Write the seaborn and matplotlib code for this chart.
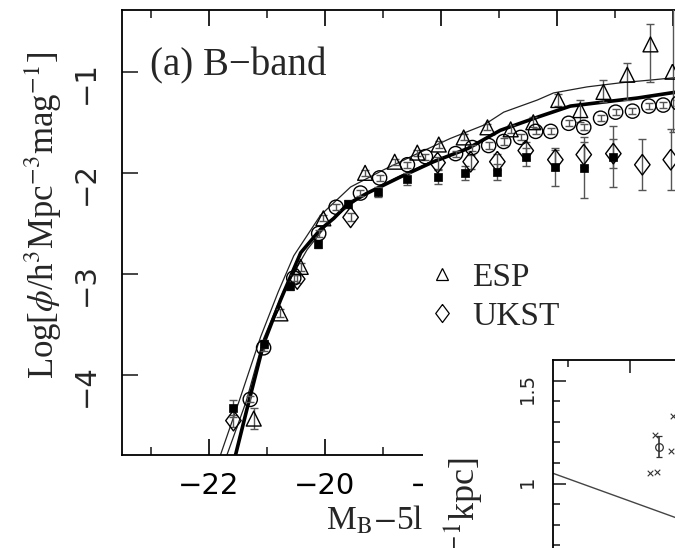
import matplotlib
matplotlib.use("Agg")
import matplotlib.pyplot as plt
import pandas as pd
import seaborn as sns
from matplotlib.lines import Line2D
from matplotlib.patches import Rectangle
from matplotlib.transforms import Bbox

# ---------------- B-band luminosity function: model curves ----------------
fit_thin_mag = [-21.90, -21.80, -21.45, -21.10, -20.80, -20.53, -20.07, -19.55, -18.98,
                -18.40, -17.83, -17.26, -16.91, -16.33, -16.05, -15.47, -14.90, -14.33,
                -13.98, -13.50, -12.50]
fit_thin_phi = [-4.97, -4.80, -4.22, -3.62, -3.18, -2.82, -2.42, -2.14, -1.97,
                -1.81, -1.66, -1.53, -1.40, -1.28, -1.21, -1.15, -1.11, -1.08,
                -1.06, -1.04, -1.00]

fit_mid_mag = [-21.75, -21.72, -21.35, -21.05, -20.70, -20.30, -19.90, -19.40, -18.80,
               -18.20, -17.50, -16.97, -16.33, -15.76, -15.19, -14.60, -14.03, -13.50, -12.50]
fit_mid_phi = [-4.90, -4.85, -4.26, -3.64, -3.16, -2.76, -2.47, -2.25, -2.06,
               -1.90, -1.75, -1.58, -1.45, -1.34, -1.30, -1.26, -1.21, -1.17, -1.10]

fit_thick_mag = [-21.58, -21.56, -21.33, -21.05, -20.76, -20.41, -20.07, -19.84, -19.60,
                 -19.26, -18.69, -18.12, -17.53, -16.97, -16.33, -15.76, -15.19, -14.60,
                 -14.03, -13.50, -12.50]
fit_thick_phi = [-4.90, -4.85, -4.32, -3.69, -3.26, -2.79, -2.56, -2.45, -2.31,
                 -2.20, -2.04, -1.89, -1.76, -1.58, -1.45, -1.34, -1.30, -1.26,
                 -1.21, -1.17, -1.10]

# ---------------- survey measurements ----------------
esp_mag = [-21.22, -20.76, -20.41, -20.02, -19.30, -18.79, -18.40, -18.03, -17.60,
           -17.19, -16.79, -16.40, -15.97, -15.59, -15.19, -14.78, -14.38, -14.00]
esp_phi = [-4.43, -3.39, -2.93, -2.45, -2.00, -1.89, -1.80, -1.72, -1.65,
           -1.55, -1.57, -1.50, -1.28, -1.38, -1.20, -1.03, -0.73, -1.00]
esp_err_lo = [0.10, 0.04, 0.04, 0.03, 0.03, 0.03, 0.03, 0.03, 0.03,
              0.03, 0.04, 0.05, 0.06, 0.12, 0.10, 0.25, 0.37, 0.60]
esp_err_hi = [0.10, 0.04, 0.04, 0.03, 0.03, 0.03, 0.03, 0.03, 0.03,
              0.03, 0.04, 0.05, 0.06, 0.10, 0.12, 0.12, 0.20, 0.65]

ukst_mag = [-21.57, -20.47, -19.55, -18.05, -17.48, -17.02, -16.53, -16.02, -15.53,
            -15.02, -14.52, -14.03]
ukst_phi = [-4.45, -3.05, -2.44, -1.90, -1.89, -1.89, -1.78, -1.87, -1.82,
            -1.81, -1.92, -1.87]
ukst_err = [0.06, 0.04, 0.04, 0.06, 0.07, 0.08, 0.08, 0.10, 0.12, 0.14, 0.25, 0.30]

circ_mag = [-21.28, -21.05, -20.53, -20.10, -19.80, -19.38, -19.05, -18.57, -18.26,
            -17.74, -17.45, -17.17, -16.91, -16.62, -16.36, -16.10, -15.79, -15.53,
            -15.24, -14.98, -14.69, -14.41, -14.16, -13.90]
circ_phi = [-4.24, -3.73, -3.04, -2.60, -2.34, -2.20, -2.05, -1.92, -1.84,
            -1.81, -1.75, -1.73, -1.69, -1.65, -1.59, -1.59, -1.51, -1.55,
            -1.46, -1.40, -1.39, -1.34, -1.33, -1.31]
circ_err = [0.03] * 24

sq_mag = [-21.57, -21.05, -20.59, -20.12, -19.60, -19.07, -18.57, -18.05, -17.57,
          -17.02, -16.53, -16.02, -15.53, -15.02]
sq_phi = [-4.33, -3.69, -3.12, -2.70, -2.31, -2.19, -2.06, -2.04, -2.00,
          -1.99, -1.84, -1.94, -1.95, -1.84]
sq_err = [0.08, 0.04, 0.04, 0.04, 0.04, 0.05, 0.06, 0.07, 0.07, 0.08, 0.09, 0.19, 0.30, 0.30]

mag_ticks = [-22, -20, -18, -16, -14]
mag_tick_labels = ["\u221222", "\u221220", "\u221218", "", ""]

# ---------------- size panel ----------------
size_line_x = [0.38, 3.00]
size_line_y = [1.05, 0.48]
size_cross_x = [1.16, 1.22, 1.20, 1.35, 1.33]
size_cross_y = [1.05, 1.055, 1.235, 1.33, 1.16]
size_mean_x = [1.234]
size_mean_y = [1.18]
size_mean_err = [0.05]
size_ticks = [0.5, 1.0, 1.5]
size_tick_labels = ["", "1", "1.5"]

# ---------------- styling ----------------
sns.set_theme(style="ticks")
plt.rcParams.update({
    "font.family": ["DejaVu Sans"],
    "mathtext.fontset": "stix",
    "axes.linewidth": 1.3,
    "xtick.direction": "in",
    "ytick.direction": "in",
    "axes.unicode_minus": True,
})
SERIF = ["Liberation Serif", "DejaVu Serif"]
W, H = 675, 548
PANEL_LEFT = 423  # left edge of the neighbouring panel, in pixels


def rect(x0, y0, w, h):
    return [x0 / W, 1 - (y0 + h) / H, w / W, h / H]


DIAMOND = [(0, 1), (0.75, 0), (0, -1), (-0.75, 0), (0, 1)]
EC = "#555555"

fig = plt.figure(figsize=(6.75, 5.48), dpi=100)
ax = fig.add_axes(rect(121.5, 10, 638, 445))


def open_points(mag, phi, marker, size, lw=1.0):
    sns.scatterplot(x=mag, y=phi, ax=ax, marker=marker, s=size, color="black",
                    edgecolor="black", linewidth=lw, zorder=4, legend=False)
    ax.collections[-1].set_facecolor("none")


# model curves
sns.lineplot(x=fit_thin_mag, y=fit_thin_phi, ax=ax, sort=False, estimator=None,
             color="#222222", lw=0.9, zorder=2)
sns.lineplot(x=fit_mid_mag, y=fit_mid_phi, ax=ax, sort=False, estimator=None,
             color="#222222", lw=0.9, zorder=2)
sns.lineplot(x=fit_thick_mag, y=fit_thick_phi, ax=ax, sort=False, estimator=None,
             color="black", lw=2.6, zorder=3)

# error bars
err_kw = dict(fmt="none", ecolor=EC, elinewidth=1.0, capsize=3.0, capthick=1.0, zorder=3)
ax.errorbar(esp_mag, esp_phi, yerr=[esp_err_lo, esp_err_hi], **err_kw)
ax.errorbar(ukst_mag, ukst_phi, yerr=ukst_err, **err_kw)
ax.errorbar(circ_mag, circ_phi, yerr=circ_err, **err_kw)
ax.errorbar(sq_mag, sq_phi, yerr=sq_err, **err_kw)

# markers
open_points(circ_mag, circ_phi, "o", 105)
open_points(esp_mag, esp_phi, "^", 115)
open_points(ukst_mag, ukst_phi, DIAMOND, 220)
sns.scatterplot(x=sq_mag, y=sq_phi, ax=ax, marker="s", s=32, color="black",
                edgecolor="black", linewidth=0.5, zorder=5, legend=False)

ax.set_xlim(-23.5, -12.5)
ax.set_ylim(-4.79, -0.39)
ax.set_xticks(mag_ticks)
ax.set_xticklabels(mag_tick_labels)
ax.set_xticks([-23, -21, -19, -17, -15, -13], minor=True)
ax.set_yticks([-4, -3, -2, -1])
ax.tick_params(axis="x", which="major", length=11.5, width=1.2, top=True,
               labelsize=21, pad=12, colors="black")
ax.tick_params(axis="x", which="minor", length=5.8, width=1.2, top=True)
ax.tick_params(axis="y", which="major", length=11.5, width=1.2, right=True,
               labelsize=21, pad=15.5, labelrotation=90)
ax.set_xlabel("")
ax.set_ylabel("")
for s in ax.spines.values():
    s.set_color("black")

handles = [
    Line2D([], [], ls="", marker="^", markersize=9, markerfacecolor="none",
           markeredgecolor="black", markeredgewidth=0.9),
    Line2D([], [], ls="", marker=DIAMOND, markersize=13, markerfacecolor="none",
           markeredgecolor="black", markeredgewidth=0.9),
]
ax.legend(handles, ["ESP", "UKST"], loc="upper left", bbox_to_anchor=(425 / W, 1 - 262 / H),
          bbox_transform=fig.transFigure, frameon=False, borderpad=0, borderaxespad=0,
          handlelength=1.0, handletextpad=0.42, labelspacing=0.27,
          prop={"family": SERIF, "size": 24})

fig.text(150 / W, 1 - 66 / H, "(a) B\u2212band", family=SERIF, fontsize=28,
         ha="left", va="center")
fig.text(43 / W, 1 - 215 / H, r"Log[$\phi$/h$^3$Mpc$^{-3}$mag$^{-1}$]", family=SERIF,
         fontsize=25, rotation=90, ha="center", va="center")
xlab = fig.text(326 / W, 1 - 520 / H, r"M$_\mathrm{B}$$-$5log h", family=SERIF, fontsize=24,
                ha="left", va="center")

# texts of the main panel stop where the neighbouring panel begins
keep_left = Bbox.from_extents(0, 0, PANEL_LEFT, H)
xlab.set_clip_box(keep_left)
xlab.set_clip_on(True)
for lab in ax.get_xticklabels():
    lab.set_clip_box(keep_left)
    lab.set_clip_on(True)

# neighbouring panel
fig.add_artist(Rectangle((PANEL_LEFT / W, 0), 1 - PANEL_LEFT / W, 1 - 330 / H,
                         transform=fig.transFigure, facecolor="white", edgecolor="none",
                         zorder=5))

ax2 = fig.add_axes(rect(553, 360, 324.9, 298.7), zorder=6)
sns.lineplot(x=size_line_x, y=size_line_y, ax=ax2, sort=False, estimator=None,
             color="#444444", lw=1.0)
sns.scatterplot(x=size_cross_x, y=size_cross_y, ax=ax2, marker="x", s=16, color="#333333",
                linewidth=0.8, legend=False)
ax2.errorbar(size_mean_x, size_mean_y, yerr=size_mean_err, fmt="o", ms=5.5, mfc="none",
             mec="#333333", ecolor="#333333", elinewidth=1.2, capsize=2.5, mew=0.9)
ax2.set_xlim(0.38, 3.0)
ax2.set_ylim(0.15, 1.6)
ax2.set_xticks([1.0, 2.0, 3.0])
ax2.set_xticks([0.5, 1.5, 2.5], minor=True)
ax2.set_yticks(size_ticks)
ax2.set_yticklabels(size_tick_labels)
ax2.set_yticks([0.2, 0.3, 0.4, 0.6, 0.7, 0.8, 0.9, 1.1, 1.2, 1.3, 1.4], minor=True)
ax2.tick_params(axis="both", which="major", length=9.4, width=1.2, top=True, right=True,
                labelbottom=False)
ax2.tick_params(axis="both", which="minor", length=5, width=1.2, top=True, right=True)
ax2.tick_params(axis="y", which="major", labelsize=14, pad=11.5, labelrotation=90)
ax2.set_xlabel("")
ax2.set_ylabel("")
for s in ax2.spines.values():
    s.set_color("black")
    s.set_linewidth(1.3)

fig.text(463 / W, 1 - 457 / H, r"Log[$r$/h$^{-1}$kpc]", family=SERIF, fontsize=26,
         rotation=90, ha="center", va="top", zorder=7)

fig.savefig("out.png", dpi=100)
